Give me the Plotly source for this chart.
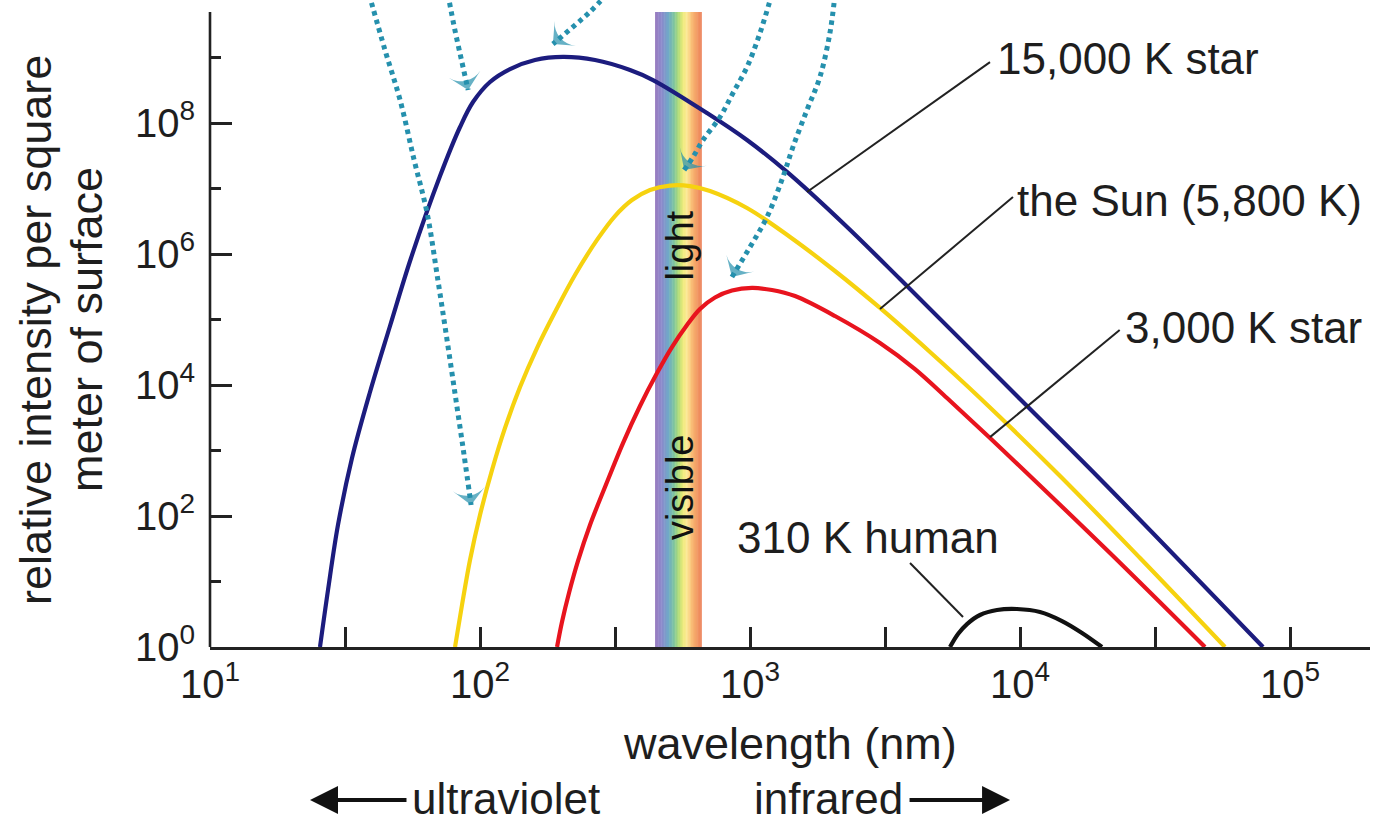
import math
import plotly.graph_objects as go

# ---------------------------------------------------------------
# Blackbody curves: wavelength (nm) and relative intensity
# ---------------------------------------------------------------
star15000_wl = [25.55, 27.36, 29.79, 33.57, 39.14, 46.42, 55.53, 71.11, 84.34, 94.21, 108.9,
                129.2, 159.8, 203.0, 266.7, 359.4, 437.2, 693.0, 974.7, 1371, 2248, 3594,
                10000, 19790, 79430]
star15000_I = [1.0, 7.42, 72.9, 768, 7.82e3, 7.96e4, 8.69e5, 1.55e7, 8.69e7, 2.09e8, 4.23e8,
               6.67e8, 9.16e8, 1.02e9, 9.16e8, 6.45e8, 4.53e8, 1.42e8, 5.50e7, 1.79e7, 2.77e6,
               4.15e5, 6.11e3, 367, 1.0]

sun_wl = [80.81, 85.77, 91.83, 100.0, 110.8, 123.8, 140.7, 162.6, 189.6, 224.8, 271.3,
          316.2, 365.6, 426.3, 505.4, 599.5, 710.9, 974.7, 1407, 2064, 3030, 4642,
          7110, 14070, 27830, 57440]
sun_I = [1.0, 4.38, 21.3, 103.6, 504, 2.21e3, 9.32e3, 3.67e4, 1.30e5, 4.78e5, 1.64e6,
         3.80e6, 6.67e6, 9.49e6, 1.11e7, 1.09e7, 9.16e6, 5.04e6, 1.82e6, 5.50e5, 1.50e5, 3.19e4,
         6.33e3, 408, 22.8, 1.0]

star3000_wl = [192.9, 201.2, 213.6, 230.7, 255.5, 290.4, 338.6, 391.4, 452.5, 514.1, 584.4,
               652.8, 742.0, 857.7, 1017, 1206, 1468, 2064, 3030, 4084, 5366, 7743,
               10890, 21540, 48430]
star3000_I = [1.0, 2.41, 6.67, 20.6, 72.9, 277, 1.30e3, 4.78e3, 1.52e4, 3.80e4, 8.24e4,
              1.45e5, 2.17e5, 2.77e5, 3.03e5, 2.82e5, 2.28e5, 1.13e5, 4.38e4, 1.75e4, 6.33e3, 1.55e3,
              408, 27.2, 1.0]

human_wl = [5505, 5895, 6364, 7110, 8219, 9747, 11860, 14310, 16970, 20120]
human_I = [1.0, 1.58, 2.24, 3.08, 3.67, 3.80, 3.42, 2.49, 1.64, 1.0]

curve_names = ["15,000 K star", "the Sun (5,800 K)", "3,000 K star", "310 K human"]
curve_colors = ["#1c1c7e", "#f6d20f", "#e8141e", "#111111"]

# Visible band (nm)
visible_lo, visible_hi = 445, 663

# Axis ticks
x_tick_exps = [1, 1.5, 2, 2.5, 3, 3.5, 4, 4.5, 5]
x_tick_text = ["10<sup>1</sup>", "", "10<sup>2</sup>", "", "10<sup>3</sup>", "",
               "10<sup>4</sup>", "", "10<sup>5</sup>"]
y_major_exps = [0, 2, 4, 6, 8]
y_minor_exps = [1, 3, 5, 7, 9]
y_axis_top_exp = 9.695

# Dotted pointer paths (log10 wavelength, log10 intensity)
pointer_paths = [
    ([1.589, 1.648, 1.704, 1.756, 1.804, 1.844, 1.878, 1.911, 1.941, 1.967],
     [9.969, 9.115, 8.351, 7.435, 6.626, 5.603, 4.687, 3.771, 2.931, 2.168]),
    ([1.881, 1.907, 1.933, 1.956],
     [9.969, 9.420, 8.931, 8.504]),
    ([2.470, 2.407, 2.352, 2.270],
     [9.969, 9.695, 9.496, 9.206]),
    ([3.081, 3.037, 2.989, 2.937, 2.889, 2.826, 2.789, 2.756],
     [9.969, 9.374, 8.855, 8.458, 8.092, 7.740, 7.481, 7.282]),
    ([3.315, 3.296, 3.259, 3.211, 3.159, 3.122, 3.063, 3.0, 2.933],
     [9.969, 9.374, 8.702, 8.198, 7.634, 7.176, 6.565, 6.107, 5.649]),
]

# Curve labels: (text, label anchor, leader start on curve, leader end) in nm / intensity
labels = [
    ("15,000 K star", (8072, 10**8.99), (1626, 8.85e6), (7743, 8.5e8)),
    ("the Sun (5,800 K)", (9575, 10**6.824), (3030, 1.45e5), (9418, 7.4e6)),
    ("3,000 K star", (24000, 10**4.885), (7743, 1.6e3), (23400, 6.9e4)),
    ("310 K human", (880, 10**1.679), (6152, 2.87), (3914, 19.2)),
]

FONT = "Liberation Sans, Arial, Helvetica, sans-serif"
TXT = "#1e1e1e"
AX = "#222222"
TEAL = "#2590ad"

fig = go.Figure()

# Rainbow strip for the visible band
stops = [(0.0, (154, 124, 192)), (0.14, (140, 138, 204)), (0.28, (112, 168, 200)),
         (0.40, (124, 196, 160)), (0.50, (176, 220, 120)), (0.60, (240, 236, 124)),
         (0.68, (252, 232, 150)), (0.80, (248, 182, 112)), (1.0, (236, 126, 88))]


def strip_color(t):
    for (t0, c0), (t1, c1) in zip(stops[:-1], stops[1:]):
        if t <= t1:
            f = (t - t0) / (t1 - t0)
            return "rgb(%d,%d,%d)" % tuple(round(a + (b - a) * f) for a, b in zip(c0, c1))
    return "rgb(%d,%d,%d)" % stops[-1][1]


n_strips = 30
lo, hi = math.log10(visible_lo), math.log10(visible_hi)
step = (hi - lo) / n_strips
for i in range(n_strips):
    x_end = lo + (i + 1) * step + (step * 0.3 if i < n_strips - 1 else 0)
    fig.add_shape(type="rect", xref="x", yref="y",
                  x0=10 ** (lo + i * step), x1=10 ** x_end,
                  y0=1, y1=10 ** y_axis_top_exp,
                  fillcolor=strip_color((i + 0.5) / n_strips), line=dict(width=0),
                  layer="below")

# Blackbody curves
for wl, inten, name, color in zip([star15000_wl, sun_wl, star3000_wl, human_wl],
                                  [star15000_I, sun_I, star3000_I, human_I],
                                  curve_names, curve_colors):
    fig.add_trace(go.Scatter(x=wl, y=inten, mode="lines", name=name,
                             line=dict(color=color, width=4.2, shape="spline", smoothing=1.0),
                             showlegend=False, hoverinfo="skip"))

# Dotted pointers with arrowheads
for lx, ly in pointer_paths:
    n = len(lx)
    fig.add_trace(go.Scatter(
        x=[10 ** v for v in lx], y=[10 ** v for v in ly], mode="lines+markers",
        line=dict(color=TEAL, width=5, dash="4.5px,4.3px", shape="spline"),
        marker=dict(size=[0] * (n - 1) + [23], symbol="arrow-wide", angleref="previous",
                    color=TEAL, line=dict(width=0)),
        showlegend=False, hoverinfo="skip"))

# Leader lines and curve labels
for text, (lx, ly), (sx, sy), (ex, ey) in labels:
    fig.add_shape(type="line", xref="x", yref="y", x0=sx, y0=sy, x1=ex, y1=ey,
                  line=dict(color=AX, width=2))
    fig.add_annotation(x=math.log10(lx), y=math.log10(ly), xref="x", yref="y", text=text,
                       showarrow=False, xanchor="left", yanchor="middle",
                       font=dict(family=FONT, size=44, color=TXT))

# Band labels
for text, ly in [("light", 6.13), ("visible", 2.443)]:
    fig.add_annotation(x=math.log10(551), y=ly, xref="x", yref="y", text=text, textangle=-90,
                       showarrow=False, xanchor="center", yanchor="middle",
                       font=dict(family=FONT, size=38, color="#111111"))

# Axis titles
fig.add_annotation(x=0.5, y=-0.1484, xref="paper", yref="paper", text="wavelength (nm)",
                   showarrow=False, xanchor="center", yanchor="middle",
                   font=dict(family=FONT, size=45, color=TXT))
for text, px in [("relative intensity per square", -0.150), ("meter of surface", -0.106)]:
    fig.add_annotation(x=px, y=0.49, xref="paper", yref="paper", text=text, textangle=-90,
                       showarrow=False, xanchor="center", yanchor="middle",
                       font=dict(family=FONT, size=45, color=TXT))

# Ultraviolet / infrared direction arrows
fig.add_annotation(x=0.1724, y=-0.2335, xref="paper", yref="paper", text="ultraviolet",
                   showarrow=False, xanchor="left", yanchor="middle",
                   font=dict(family=FONT, size=44, color=TXT))
fig.add_annotation(x=0.599, y=-0.2335, xref="paper", yref="paper", text="infrared",
                   showarrow=False, xanchor="right", yanchor="middle",
                   font=dict(family=FONT, size=44, color=TXT))
fig.add_annotation(x=0.0862, y=-0.2365, xref="paper", yref="paper", text="",
                   showarrow=True, ax=98, ay=0, arrowhead=2, arrowsize=1.4, arrowwidth=4,
                   arrowcolor="#111111", standoff=0)
fig.add_annotation(x=0.6897, y=-0.2365, xref="paper", yref="paper", text="",
                   showarrow=True, ax=-102, ay=0, arrowhead=2, arrowsize=1.4, arrowwidth=4,
                   arrowcolor="#111111", standoff=0)

# Left axis line (stops below the top of the frame)
fig.add_shape(type="line", xref="paper", yref="y", x0=0, x1=0, y0=1, y1=10 ** y_axis_top_exp,
              line=dict(color=AX, width=2.6))

fig.update_layout(
    width=1379, height=822,
    margin=dict(l=210, r=9, t=0, b=175),
    paper_bgcolor="white", plot_bgcolor="white",
    showlegend=False,
    xaxis=dict(type="log", range=[1, 5.2963], showgrid=False, zeroline=False,
               showline=True, linecolor=AX, linewidth=2.6,
               ticks="inside", ticklen=20, tickwidth=2.6, tickcolor=AX,
               tickvals=[10 ** e for e in x_tick_exps], ticktext=x_tick_text,
               tickfont=dict(family=FONT, size=40, color=TXT)),
    yaxis=dict(type="log", range=[0, 9.878], showgrid=False, zeroline=False,
               showline=False, ticklabelstandoff=14,
               ticks="inside", ticklen=22, tickwidth=2.6, tickcolor=AX,
               tickvals=[10 ** e for e in y_major_exps],
               ticktext=["10<sup>%d</sup>" % e for e in y_major_exps],
               tickfont=dict(family=FONT, size=40, color=TXT),
               minor=dict(tickvals=[10 ** e for e in y_minor_exps], ticks="inside",
                          ticklen=11, tickwidth=2.6, tickcolor=AX, showgrid=False)),
)

fig.write_html("out.html")
